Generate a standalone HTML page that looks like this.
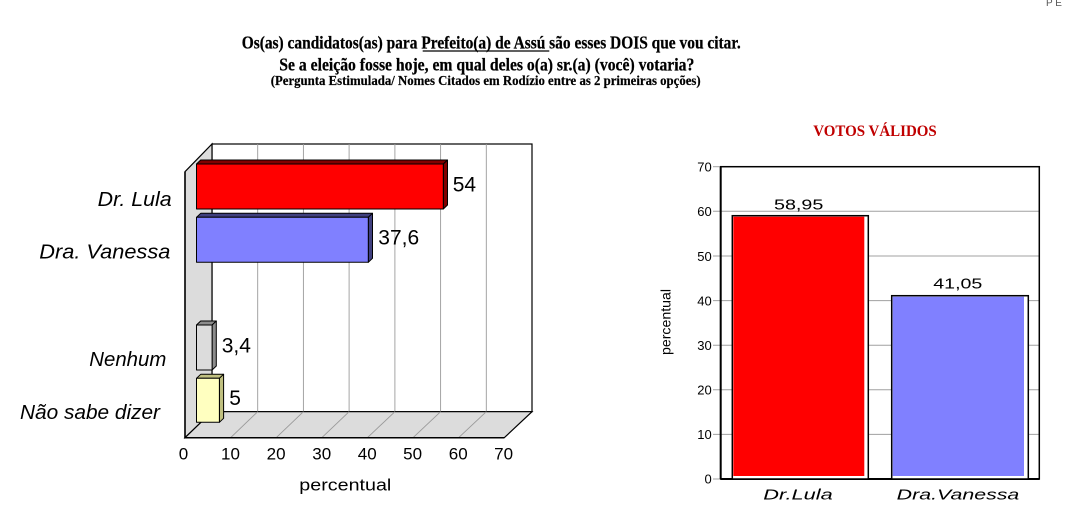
<!DOCTYPE html>
<html><head><meta charset="utf-8"><style>
html,body{margin:0;padding:0;background:#fff;}
svg{display:block;}
.t{font-family:"Liberation Serif",serif;font-weight:bold;fill:#000;}
.s{font-family:"Liberation Sans",Arial,sans-serif;fill:#000;}
</style></head><body>
<svg width="1067" height="513" viewBox="0 0 1067 513" xmlns="http://www.w3.org/2000/svg">
<rect width="1067" height="513" fill="#fff"/>
<!-- top right fragment -->
<text class="s" x="1046" y="6" font-size="10" style="fill:#555">P E</text>
<!-- Titles -->
<text class="t" x="241.7" y="48.5" font-size="17.5" stroke="#000" stroke-width="0.25" textLength="499" lengthAdjust="spacingAndGlyphs">Os(as) candidatos(as) para Prefeito(a) de Assú são esses DOIS que vou citar.</text>
<line x1="422.7" y1="51" x2="549.3" y2="51" stroke="#000" stroke-width="1.3"/>
<text class="t" x="279.3" y="70.5" font-size="17.5" stroke="#000" stroke-width="0.25" textLength="415" lengthAdjust="spacingAndGlyphs">Se a eleição fosse hoje, em qual deles o(a) sr.(a) (você) votaria?</text>
<text class="t" x="270.7" y="85" font-size="14" stroke="#000" stroke-width="0.2" textLength="430" lengthAdjust="spacingAndGlyphs">(Pergunta Estimulada/ Nomes Citados em Rodízio entre as 2 primeiras opções)</text>
<text class="t" x="813.3" y="136" font-size="15.5" textLength="123.4" lengthAdjust="spacingAndGlyphs" style="fill:#c00000">VOTOS VÁLIDOS</text>

<!-- LEFT CHART -->
<rect x="212" y="144" width="320" height="267.7" fill="#fff" stroke="#000" stroke-width="1.2"/>
<g stroke="#9a9a9a" stroke-width="0.9">
<line x1="257.7" y1="144" x2="257.7" y2="411.7"/>
<line x1="303.4" y1="144" x2="303.4" y2="411.7"/>
<line x1="349.1" y1="144" x2="349.1" y2="411.7"/>
<line x1="394.9" y1="144" x2="394.9" y2="411.7"/>
<line x1="440.6" y1="144" x2="440.6" y2="411.7"/>
<line x1="486.3" y1="144" x2="486.3" y2="411.7"/>
</g>
<polygon points="185,171.7 212,144 212,411.7 185,437.7" fill="#dcdcdc" stroke="#000" stroke-width="1.2"/>
<polygon points="185,437.7 212,411.7 532,411.7 504.3,437.7" fill="#dcdcdc" stroke="#000" stroke-width="1.2"/>
<g stroke="#9a9a9a" stroke-width="0.9">
<line x1="230.6" y1="437.7" x2="257.7" y2="411.7"/>
<line x1="276.2" y1="437.7" x2="303.4" y2="411.7"/>
<line x1="321.8" y1="437.7" x2="349.1" y2="411.7"/>
<line x1="367.4" y1="437.7" x2="394.9" y2="411.7"/>
<line x1="413" y1="437.7" x2="440.6" y2="411.7"/>
<line x1="458.6" y1="437.7" x2="486.3" y2="411.7"/>
</g>
<line x1="185" y1="437.7" x2="504.3" y2="437.7" stroke="#000" stroke-width="1.5"/>
<line x1="185" y1="171.7" x2="185" y2="437.7" stroke="#000" stroke-width="1.5"/>

<!-- bars -->
<g stroke="#000" stroke-width="1" stroke-linejoin="round">
<polygon points="196.5,164 200.7,160 447.5,160 443.3,164" fill="#800000"/>
<polygon points="443.3,164 447.5,160 447.5,205 443.3,209" fill="#800000"/>
<rect x="196.5" y="164" width="246.8" height="45" fill="#ff0000"/>

<polygon points="196.5,217.3 200.7,213.3 372.5,213.3 368.3,217.3" fill="#40407f"/>
<polygon points="368.3,217.3 372.5,213.3 372.5,258.3 368.3,262.3" fill="#40407f"/>
<rect x="196.5" y="217.3" width="171.8" height="45" fill="#8080ff"/>

<polygon points="196.5,325 200.7,321 216.3,321 212.1,325" fill="#8c8c8c"/>
<polygon points="212.1,325 216.3,321 216.3,366 212.1,370" fill="#8c8c8c"/>
<rect x="196.5" y="325" width="15.6" height="45" fill="#dcdcdc"/>

<polygon points="196.5,378.3 200.7,374.3 223.6,374.3 219.4,378.3" fill="#c0c080"/>
<polygon points="219.4,378.3 223.6,374.3 223.6,418.3 219.4,422.3" fill="#c0c080"/>
<rect x="196.5" y="378.3" width="22.9" height="44" fill="#ffffc0"/>
</g>

<!-- value labels -->
<g font-size="21">
<text class="s" x="452.7" y="191.7">54</text>
<text class="s" x="378.3" y="244.3">37,6</text>
<text class="s" x="221.7" y="352.7">3,4</text>
<text class="s" x="229.3" y="405">5</text>
</g>
<!-- category labels -->
<g font-size="20" font-style="italic">
<text class="s" x="97.7" y="206" textLength="74" lengthAdjust="spacingAndGlyphs">Dr. Lula</text>
<text class="s" x="39.3" y="258.3" textLength="131" lengthAdjust="spacingAndGlyphs">Dra. Vanessa</text>
<text class="s" x="89.3" y="366" textLength="77" lengthAdjust="spacingAndGlyphs">Nenhum</text>
<text class="s" x="20" y="419" textLength="140" lengthAdjust="spacingAndGlyphs">Não sabe dizer</text>
</g>
<!-- x ticks -->
<g font-size="17" text-anchor="middle">
<text class="s" x="183.5" y="459.3">0</text>
<text class="s" x="230.5" y="459.3">10</text>
<text class="s" x="276.1" y="459.3">20</text>
<text class="s" x="321.7" y="459.3">30</text>
<text class="s" x="367.2" y="459.3">40</text>
<text class="s" x="412.6" y="459.3">50</text>
<text class="s" x="458.2" y="459.3">60</text>
<text class="s" x="503.6" y="459.3">70</text>
</g>
<text class="s" x="299.3" y="490.5" font-size="17" textLength="92" lengthAdjust="spacingAndGlyphs">percentual</text>

<!-- RIGHT CHART -->
<g stroke="#a0a0a0" stroke-width="1">
<line x1="713" y1="434.4" x2="1039" y2="434.4"/>
<line x1="713" y1="389.8" x2="1039" y2="389.8"/>
<line x1="713" y1="345.2" x2="1039" y2="345.2"/>
<line x1="713" y1="300.6" x2="1039" y2="300.6"/>
<line x1="713" y1="256" x2="1039" y2="256"/>
<line x1="713" y1="211.3" x2="1039" y2="211.3"/>
<line x1="713" y1="166.7" x2="720" y2="166.7"/>
<line x1="713" y1="479" x2="720" y2="479"/>
</g>
<rect x="720.7" y="166.7" width="318.6" height="312.3" fill="none" stroke="#000" stroke-width="1.5"/>
<line x1="720.7" y1="479" x2="1039.3" y2="479" stroke="#000" stroke-width="2"/>
<line x1="720.7" y1="166.7" x2="720.7" y2="479" stroke="#000" stroke-width="2"/>

<rect x="732.3" y="215.7" width="136" height="263.3" fill="#fff" stroke="#000" stroke-width="1.5"/>
<rect x="733.3" y="216.7" width="131" height="259.3" fill="#ff0000"/>
<rect x="891.7" y="295.7" width="136.6" height="183.3" fill="#fff" stroke="#000" stroke-width="1.5"/>
<rect x="892.7" y="296.7" width="131.3" height="179.3" fill="#8080ff"/>

<g font-size="13" text-anchor="end">
<text class="s" x="711.7" y="171.5">70</text>
<text class="s" x="711.7" y="216.1">60</text>
<text class="s" x="711.7" y="260.8">50</text>
<text class="s" x="711.7" y="305.4">40</text>
<text class="s" x="711.7" y="350">30</text>
<text class="s" x="711.7" y="394.6">20</text>
<text class="s" x="711.7" y="439.2">10</text>
<text class="s" x="711.7" y="483.4">0</text>
</g>
<text class="s" x="774" y="209.5" font-size="15" textLength="49.3" lengthAdjust="spacingAndGlyphs">58,95</text>
<text class="s" x="933.3" y="288.7" font-size="15" textLength="49" lengthAdjust="spacingAndGlyphs">41,05</text>
<text class="s" x="763.3" y="499.3" font-size="15" font-style="italic" textLength="69.4" lengthAdjust="spacingAndGlyphs">Dr.Lula</text>
<text class="s" x="896.7" y="499.3" font-size="15" font-style="italic" textLength="122.6" lengthAdjust="spacingAndGlyphs">Dra.Vanessa</text>
<text class="s" transform="translate(670.5,355) rotate(-90)" x="0" y="0" font-size="14" textLength="66" lengthAdjust="spacingAndGlyphs">percentual</text>
</svg>
</body></html>
